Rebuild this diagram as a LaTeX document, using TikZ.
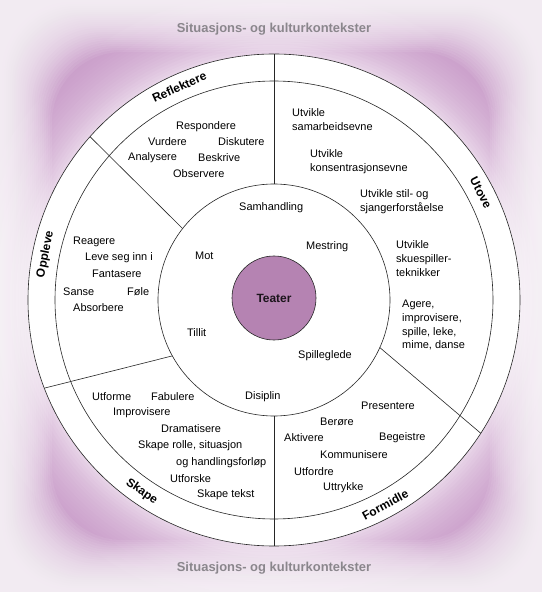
\documentclass[tikz,border=0pt]{standalone}
\usepackage{fontspec}
\setmainfont{Liberation Sans}
\definecolor{glowpurple}{RGB}{192,140,192}
\definecolor{teaterfill}{RGB}{181,131,178}
\definecolor{contextgray}{RGB}{138,134,140}
\begin{document}
\begin{tikzpicture}[x=1bp,y=1bp,
	txt/.style={inner sep=0pt, anchor=west, align=left, font=\fontsize{11}{14}\selectfont},
	ringlabel/.style={inner sep=0pt, font=\bfseries\fontsize{12}{14}\selectfont},
	context/.style={inner sep=0pt, text=contextgray, font=\bfseries\fontsize{13}{15}\selectfont},
	rim/.style={line width=0.6bp, draw=black!85}]
		\useasboundingbox (-274,-292) rectangle (268,300);
		% background glow
		\foreach \r in {228,231,...,318}
			\fill[glowpurple, opacity=0.068, even odd rule] (-274,-292) rectangle (268,300) (0,0) circle (\r);
		% soft edges
		\foreach \d in {2,4,...,52}
			\fill[white, opacity=0.075, even odd rule] (-274,-292) rectangle (268,300)
				[rounded corners=70bp] ({-274+\d},{-292+\d}) rectangle ({268-\d},{300-\d});
		% titles
		\node[context] (ctxtop) at (0,271) {Situasjons- og kulturkontekster};
		\node[context] (ctxbot) at (0,-268) {Situasjons- og kulturkontekster};
		% rings
		\draw[rim, fill=white] (0,0) circle (246);
		\draw[rim] (0,0) circle (219);
		\draw[rim] (0,0) circle (116);
		% dividers
		\coordinate (in1) at (90:116);   \coordinate (out1) at (90:246);
		\coordinate (in2) at (142:116);  \coordinate (out2) at (138.4:246);
		\coordinate (in3) at (208.8:116); \coordinate (out3) at (201:246);
		\coordinate (in4) at (270:116);  \coordinate (out4) at (270:246);
		\coordinate (in5) at (335.8:116); \coordinate (out5) at (327.2:246);
		\draw[rim] (in1) -- (out1);
		\draw[rim] (in2) -- (out2);
		\draw[rim] (in3) -- (out3);
		\draw[rim] (in4) -- (out4);
		\draw[rim] (in5) -- (out5);
		% centre
		\node[circle, rim, fill=teaterfill, minimum size=84bp, inner sep=0pt, text=black!85!teaterfill, font=\bfseries\fontsize{12}{14}\selectfont] (teater) at (0,2) {Teater};
		% ring labels
		\node[ringlabel, rotate=24] (reflektere) at (114:233) {Reflektere};
		\node[ringlabel, rotate=-62.6] (utove) at (27.4:233) {Utove};
		\node[ringlabel, rotate=78.7] (oppleve) at (168.7:233) {Oppleve};
		\node[ringlabel, rotate=-34.6] (skape) at (235.4:233) {Skape};
		\node[ringlabel, rotate=28.5] (formidle) at (-61.5:233) {Formidle};
		% middle
		\node[txt] (samhandling) at (-35,92) {Samhandling};
		\node[txt] (mot) at (-79,44) {Mot};
		\node[txt] (mestring) at (32,53) {Mestring};
		\node[txt] (tillit) at (-87,-33) {Tillit};
		\node[txt] (spilleglede) at (24,-56) {Spilleglede};
		\node[txt] (disiplin) at (-29,-97) {Disiplin};
		% reflektere
		\node[txt] (respondere) at (-98,173) {Respondere};
		\node[txt] (vurdere) at (-126,158) {Vurdere};
		\node[txt] (diskutere) at (-56,158) {Diskutere};
		\node[txt] (analysere) at (-146,142) {Analysere};
		\node[txt] (beskrive) at (-76,142) {Beskrive};
		\node[txt] (observere) at (-101,126) {Observere};
		% oppleve
		\node[txt] (reagere) at (-201,58) {Reagere};
		\node[txt] (leve) at (-189,42) {Leve seg inn i};
		\node[txt] (fantasere) at (-182,26) {Fantasere};
		\node[txt] (sanse) at (-211,8) {Sanse};
		\node[txt] (fole) at (-147,8) {Føle};
		\node[txt] (absorbere) at (-201,-8) {Absorbere};
		% utove
		\node[txt] (samarbeid) at (18,180.5) {Utvikle\\samarbeidsevne};
		\node[txt] (konsentrasjon) at (36,138) {Utvikle\\konsentrasjonsevne};
		\node[txt] (stil) at (86,98) {Utvikle stil- og\\sjangerforståelse};
		\node[txt] (teknikk) at (122,41.5) {Utvikle\\skuespiller-\\teknikker};
		\node[txt] (agere) at (128,-25) {Agere,\\improvisere,\\spille, leke,\\mime, danse};
		% formidle
		\node[txt] (presentere) at (87,-106) {Presentere};
		\node[txt] (berore) at (46,-122) {Berøre};
		\node[txt] (aktivere) at (10,-138) {Aktivere};
		\node[txt] (begeistre) at (105,-138) {Begeistre};
		\node[txt] (kommunisere) at (46,-155) {Kommunisere};
		\node[txt] (utfordre) at (20,-172) {Utfordre};
		\node[txt] (uttrykke) at (49,-188) {Uttrykke};
		% skape
		\node[txt] (utforme) at (-182,-97) {Utforme};
		\node[txt] (fabulere) at (-123,-97) {Fabulere};
		\node[txt] (improvisere) at (-161,-113) {Improvisere};
		\node[txt] (dramatisere) at (-113,-129) {Dramatisere};
		\node[txt] (rolle) at (-136,-146) {Skape rolle, situasjon};
		\node[txt] (handling) at (-98,-163) {og handlingsforløp};
		\node[txt] (utforske) at (-104,-179) {Utforske};
		\node[txt] (tekst) at (-77,-195) {Skape tekst};
	\end{tikzpicture}
\end{document}
